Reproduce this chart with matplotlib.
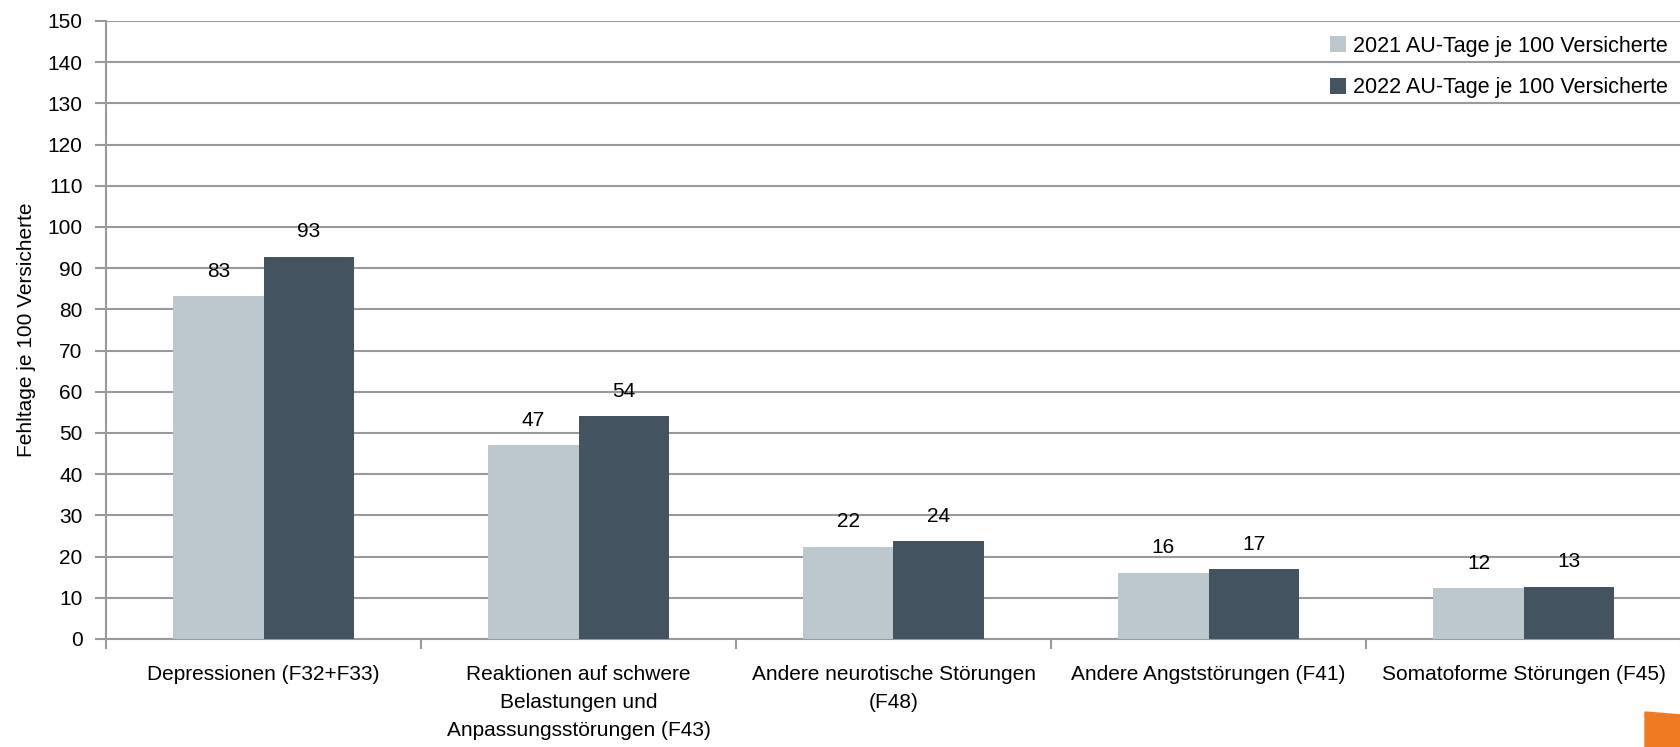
import matplotlib.pyplot as plt
import numpy as np
from matplotlib.patches import Polygon

categories = [
	'Depressionen (F32+F33)',
	'Reaktionen auf schwere\nBelastungen und\nAnpassungsstörungen (F43)',
	'Andere neurotische Störungen\n(F48)',
	'Andere Angststörungen (F41)',
	'Somatoforme Störungen (F45)',
]
values_2021 = [83.3, 47.0, 22.4, 16.1, 12.4]
values_2022 = [92.8, 54.1, 23.8, 16.9, 12.7]
series_labels = ['2021 AU-Tage je 100 Versicherte', '2022 AU-Tage je 100 Versicherte']

plt.rcParams['font.family'] = ['Liberation Sans', 'DejaVu Sans']

W, H = 1681, 747
fig = plt.figure(figsize=(W / 100, H / 100), dpi=100)
ax = fig.add_axes([106 / W, 1 - 639 / H, 1 - 106 / W, (639 - 21) / H])

light = '#bcc7ce'
dark = '#43535f'
grid = '#9a9a9a'

x = np.arange(len(categories))
bw = 0.286
b1 = ax.bar(x - bw / 2, values_2021, bw, color=light, label=series_labels[0], zorder=3)
b2 = ax.bar(x + bw / 2, values_2022, bw, color=dark, label=series_labels[1], zorder=3)

for bars, vals in ((b1, values_2021), (b2, values_2022)):
	for rect, v in zip(bars, vals):
		ax.annotate(f'{round(v):d}', (rect.get_x() + rect.get_width() / 2, v),
			xytext=(0, 11), textcoords='offset points', ha='center', va='bottom',
			fontsize=15, color='black', zorder=4)

ax.set_xlim(-0.5, len(categories) - 0.5)
ax.set_ylim(0, 150)
ax.set_yticks(np.arange(0, 151, 10))
ax.yaxis.grid(True, color=grid, linewidth=1.5, zorder=0)
ax.set_axisbelow(True)

ax.set_xticks(x)
ax.set_xticklabels(categories, fontsize=15, linespacing=1.6)
ax.set_xticks(np.arange(-0.5, len(categories), 1), minor=True)
ax.tick_params(axis='x', which='major', length=0, pad=19)
ax.tick_params(axis='x', which='minor', length=7, width=1.5, color=grid, direction='out')
ax.tick_params(axis='y', length=8, width=1.5, color=grid, labelsize=15, pad=9)

for side in ('top', 'right'):
	ax.spines[side].set_visible(False)
for side in ('left', 'bottom'):
	ax.spines[side].set_color(grid)
	ax.spines[side].set_linewidth(1.5)

ax.set_ylabel('Fehltage je 100 Versicherte', fontsize=15, labelpad=8)

leg = ax.legend(loc='upper right', bbox_to_anchor=(0.997, 0.99), frameon=False, fontsize=15.5,
	handlelength=0.75, handleheight=0.75, handletextpad=0.3, labelspacing=0.95,
	borderaxespad=0)

# orange logo fragment in the corner
logo = Polygon([(1645 / W, 1 - 712 / H), (1.0, 1 - 715 / H), (1.0, 0.0), (1645 / W, 0.0)],
	closed=True, transform=fig.transFigure, color='#f07a22', zorder=5)
fig.patches.append(logo)

fig.savefig('out.png', dpi=100)
